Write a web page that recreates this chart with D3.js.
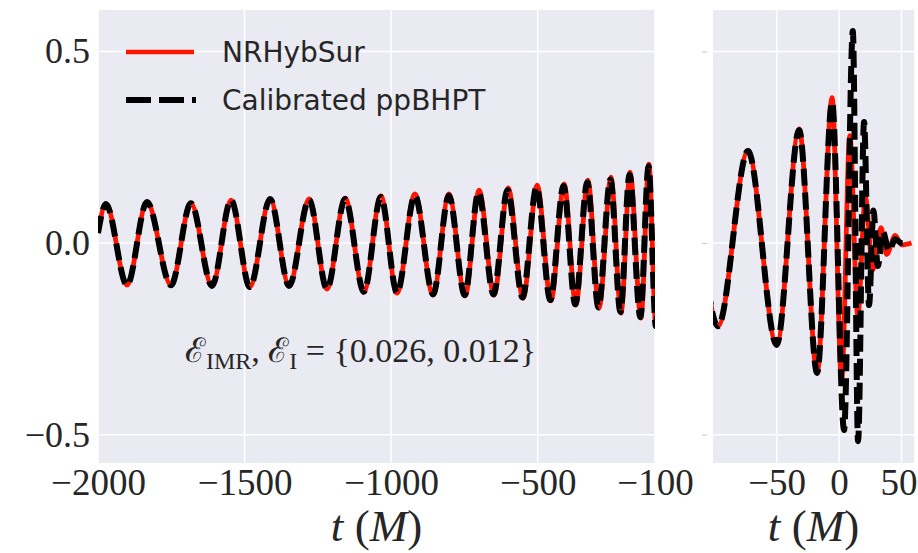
<!DOCTYPE html>
<html>
<head>
<meta charset="utf-8">
<script src="https://cdnjs.cloudflare.com/ajax/libs/d3/7.8.5/d3.min.js"></script>
<style>
  html, body { margin: 0; padding: 0; background: #fff; }
  #chart { width: 918px; height: 553px; }
</style>
</head>
<body>
<div id="chart"></div>
<script>
// waveform extrema: time (M) and strain value
const nrTimes = [-2000, -1973, -1901, -1833, -1751, -1683, -1611, -1546, -1482, -1413, -1348,
  -1280, -1219, -1157, -1093, -1035, -980, -919, -857, -803, -748, -700, -649, -601, -550,
  -502, -455, -410, -370, -329, -291, -250, -216, -185, -148, -121, -97, -73, -50, -32,
  -17.6, -5.6, 2, 8.6, 15, 21, 27, 33.6, 38, 45, 50, 58];
const nrValues = [0.026, 0.102, -0.110, 0.107, -0.110, 0.104, -0.112, 0.112, -0.115, 0.115, -0.112,
  0.115, -0.120, 0.117, -0.128, 0.123, -0.131, 0.128, -0.136, 0.128, -0.138, 0.138, -0.136, 0.144, -0.144,
  0.151, -0.151, 0.154, -0.162, 0.164, -0.170, 0.172, -0.183, 0.185, -0.196, 0.206, -0.217, 0.240, -0.266, 0.298,
  -0.339, 0.379, -0.36, 0.28, -0.19, 0.12, -0.07, 0.04, -0.03, 0.02, -0.005, 0];

const bhTimes = [-2000, -1973, -1901, -1833, -1751, -1683, -1611, -1546, -1482, -1413, -1348,
  -1280, -1219, -1157, -1093, -1035, -980, -919, -857, -803, -749, -702, -651, -603, -552,
  -504, -457, -412, -372, -331, -293, -252, -218, -187, -150, -122, -97, -73, -50, -32,
  -17.6, -5.6, 4, 11, 15.2, 20, 24, 27.5, 31, 35, 40, 45, 50, 55];
const bhValues = [0.026, 0.102, -0.110, 0.107, -0.110, 0.104, -0.112, 0.112, -0.115, 0.115, -0.112,
  0.113, -0.120, 0.115, -0.127, 0.120, -0.130, 0.124, -0.134, 0.124, -0.136, 0.132, -0.134, 0.138, -0.142,
  0.146, -0.149, 0.149, -0.160, 0.158, -0.168, 0.166, -0.180, 0.178, -0.193, 0.200, -0.217, 0.240, -0.266, 0.294,
  -0.339, 0.368, -0.488, 0.553, -0.517, 0.316, -0.162, 0.085, -0.06, 0.03, -0.02, 0.01, 0, 0];

const leftTicks = [-2000, -1500, -1000, -500, -100];
const rightTicks = [-50, 0, 50];
const yTicks = [-0.5, 0, 0.5];
const seriesNames = ["NRHybSur", "Calibrated ppBHPT"];

const width = 918, height = 553;
const plotTop = 10, plotBottom = 463;
const serif = "'Liberation Serif', 'DejaVu Serif', serif";

const svg = d3.select("#chart")
  .append("svg")
  .attr("width", width)
  .attr("height", height);

const nrData = nrTimes.map((t, i) => [t, nrValues[i]]);
const bhData = bhTimes.map((t, i) => [t, bhValues[i]]);

const y = d3.scaleLinear().domain([-0.574, 0.608]).range([plotBottom, plotTop]);
const xLeft = d3.scaleLinear().domain([-2000, -100]).range([98, 655]);
const xRight = d3.scaleLinear().domain([-101, 60]).range([713, 914]);

function drawPanel(x, ticks, id) {
  const [x0, x1] = x.range();

  svg.append("rect")
    .attr("x", x0).attr("y", plotTop)
    .attr("width", x1 - x0).attr("height", plotBottom - plotTop)
    .attr("fill", "#eaeaf2");

  // grid
  svg.append("g").selectAll("line")
    .data(ticks)
    .enter().append("line")
    .attr("x1", d => x(d)).attr("x2", d => x(d))
    .attr("y1", plotTop).attr("y2", plotBottom)
    .attr("stroke", "#fff").attr("stroke-width", 1.5);
  svg.append("g").selectAll("line")
    .data(yTicks)
    .enter().append("line")
    .attr("x1", x0).attr("x2", x1)
    .attr("y1", d => y(d)).attr("y2", d => y(d))
    .attr("stroke", "#fff").attr("stroke-width", 1.5);

  svg.append("clipPath").attr("id", id)
    .append("rect")
    .attr("x", x0).attr("y", plotTop)
    .attr("width", x1 - x0).attr("height", plotBottom - plotTop);

  const line = d3.line()
    .x(d => x(d[0]))
    .y(d => y(d[1]))
    .curve(d3.curveMonotoneX);

  const g = svg.append("g").attr("clip-path", `url(#${id})`);
  g.append("path")
    .attr("d", line(nrData))
    .attr("fill", "none")
    .attr("stroke", "#ff1400")
    .attr("stroke-width", 4.8);
  g.append("path")
    .attr("d", line(bhData))
    .attr("fill", "none")
    .attr("stroke", "#000")
    .attr("stroke-width", 6)
    .attr("stroke-dasharray", "17,7");

  // x axis
  const ax = svg.append("g")
    .attr("transform", `translate(0,${plotBottom})`)
    .call(d3.axisBottom(x).tickValues(ticks).tickSize(0).tickPadding(6).tickFormat(d3.format("d")));
  ax.select(".domain").remove();
  ax.selectAll("text")
    .style("font-family", serif)
    .style("font-size", "37px")
    .attr("fill", "#262626");

  // axis label
  const lab = svg.append("text")
    .attr("x", (x0 + x1) / 2)
    .attr("y", 541)
    .attr("text-anchor", "middle")
    .style("font-family", serif)
    .style("font-size", "45px")
    .attr("fill", "#262626");
  lab.append("tspan").style("font-style", "italic").text("t");
  lab.append("tspan").text(" (");
  lab.append("tspan").style("font-style", "italic").text("M");
  lab.append("tspan").text(")");
  return ax;
}

drawPanel(xLeft, leftTicks, "clipL");
const axRight = drawPanel(xRight, rightTicks, "clipR");
// keep the last label inside the picture
axRight.selectAll("text").filter(d => d === 50).attr("dx", -3);

// y axis (left panel labels)
const ay = svg.append("g")
  .attr("transform", "translate(98,0)")
  .call(d3.axisLeft(y).tickValues(yTicks).tickSize(0).tickPadding(8).tickFormat(d3.format(".1f")));
ay.select(".domain").remove();
ay.selectAll("text")
  .style("font-family", serif)
  .style("font-size", "36px")
  .attr("fill", "#262626");

// right panel: tick marks only
const ay2 = svg.append("g")
  .attr("transform", "translate(707,0)")
  .call(d3.axisLeft(y).tickValues(yTicks).tickSize(5).tickFormat(""));
ay2.select(".domain").remove();
ay2.selectAll("line").attr("stroke", "#c8c8c8");

// legend
const legend = svg.append("g");
const styles = [
  { color: "#ff1400", w: 4.5, dash: null, x2: 194 },
  { color: "#000", w: 6, dash: "25,8", x2: 196 }
];
seriesNames.forEach((name, i) => {
  const ly = 52 + i * 48;
  legend.append("line")
    .attr("x1", 126).attr("x2", styles[i].x2)
    .attr("y1", ly).attr("y2", ly)
    .attr("stroke", styles[i].color)
    .attr("stroke-width", styles[i].w)
    .attr("stroke-dasharray", styles[i].dash);
  legend.append("text")
    .attr("x", 222)
    .attr("y", ly + 10)
    .style("font-family", "'DejaVu Sans', sans-serif")
    .style("font-size", "28px")
    .attr("fill", "#262626")
    .text(name);
});

// mismatch annotation
const note = svg.append("text")
  .attr("x", 185)
  .attr("y", 362)
  .style("font-family", serif)
  .style("font-size", "34px")
  .attr("fill", "#262626");
note.append("tspan").text("ℰ");
note.append("tspan").attr("dy", 7).style("font-size", "24px").text("IMR");
note.append("tspan").attr("dy", -7).text(", ℰ");
note.append("tspan").attr("dy", 7).style("font-size", "24px").text("I");
note.append("tspan").attr("dy", -7).text(" = {0.026, 0.012}");
</script>
</body>
</html>
